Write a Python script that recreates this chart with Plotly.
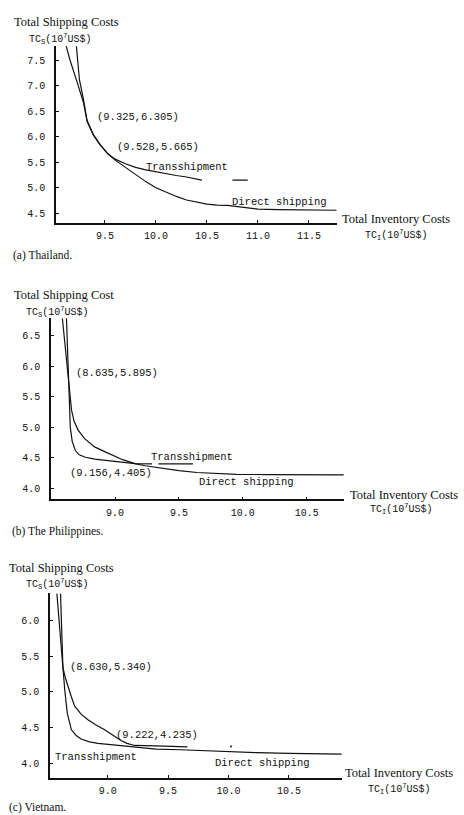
import plotly.graph_objects as go

W, H = 464, 815

# ---------------- data ----------------
# (a) Thailand
a_direct_x = [9.12, 9.157, 9.22, 9.29, 9.325, 9.385, 9.45, 9.528, 9.6, 9.7, 9.8, 9.9, 10.0, 10.1, 10.2,
              10.3, 10.4, 10.5, 10.6, 10.7, 10.8, 10.9, 11.0, 11.2, 11.5, 11.77]
a_direct_y = [7.77, 7.5, 7.11, 6.66, 6.305, 6.04, 5.85, 5.665, 5.54, 5.40, 5.26, 5.12, 5.00, 4.91, 4.83,
              4.76, 4.72, 4.68, 4.66, 4.655, 4.63, 4.60, 4.58, 4.57, 4.565, 4.56]
a_trans_x = [9.22, 9.25, 9.29, 9.325, 9.385, 9.45, 9.528, 9.6, 9.7, 9.8, 9.9, 10.0, 10.1, 10.2, 10.3, 10.45,
             None, 10.75, 10.9]
a_trans_y = [7.77, 7.11, 6.72, 6.305, 6.04, 5.85, 5.665, 5.56, 5.47, 5.40, 5.35, 5.31, 5.28, 5.24, 5.21, 5.15,
             None, 5.15, 5.15]

# (b) The Philippines
b_trans_x = [8.588, 8.612, 8.635, 8.65, 8.66, 8.68, 8.71, 8.76, 8.84, 8.91, 8.975, 9.06, 9.156, 9.22, 9.29,
             None, 9.34, 9.61]
b_trans_y = [6.79, 6.30, 5.895, 5.55, 5.28, 5.10, 4.96, 4.82, 4.68, 4.61, 4.55, 4.47, 4.405, 4.40, 4.40,
             None, 4.40, 4.40]
b_direct_x = [8.62, 8.63, 8.635, 8.64, 8.65, 8.665, 8.69, 8.72, 8.77, 8.84, 8.975, 9.156, 9.235, 9.35, 9.5,
              9.64, 9.8, 9.95, 10.2, 10.79]
b_direct_y = [6.79, 6.20, 5.895, 5.40, 5.00, 4.77, 4.62, 4.55, 4.51, 4.48, 4.45, 4.405, 4.37, 4.33, 4.29,
              4.26, 4.24, 4.23, 4.225, 4.22]

# (c) Vietnam
c_trans_x = [8.58, 8.605, 8.63, 8.65, 8.67, 8.70, 8.727, 8.78, 8.837, 8.9, 8.975, 9.05, 9.11, 9.16, 9.222,
             9.4, 9.66]
c_trans_y = [6.38, 5.80, 5.34, 5.20, 5.08, 4.93, 4.80, 4.69, 4.61, 4.54, 4.47, 4.38, 4.32, 4.28, 4.25,
             4.245, 4.23]
c_direct_x = [8.61, 8.62, 8.63, 8.645, 8.666, 8.70, 8.74, 8.78, 8.85, 8.92, 9.0, 9.08, 9.16, 9.27, 9.4,
              9.6, 9.79, 10.0, 10.23, 10.5, 10.94]
c_direct_y = [6.38, 5.80, 5.34, 5.03, 4.70, 4.47, 4.39, 4.34, 4.30, 4.28, 4.265, 4.255, 4.24, 4.215, 4.20,
              4.19, 4.175, 4.16, 4.15, 4.14, 4.13]
c_dot_x = [10.02]
c_dot_y = [4.235]

a_xticks = [9.5, 10.0, 10.5, 11.0, 11.5]
a_yticks = [4.5, 5.0, 5.5, 6.0, 6.5, 7.0, 7.5]
b_xticks = [9.0, 9.5, 10.0, 10.5]
b_yticks = [4.0, 4.5, 5.0, 5.5, 6.0, 6.5]
c_xticks = [9.0, 9.5, 10.0, 10.5]
c_yticks = [4.0, 4.5, 5.0, 5.5, 6.0]

# ---------------- layout helpers ----------------
def fx(px):
    return px / W

def fy(py):
    return 1 - py / H

MONO = "Liberation Mono"
SERIF = "Liberation Serif"
TICKFONT = dict(family=MONO, size=10, color="#111")

panels = [
    dict(xr=[9.02, 11.775], yr=[4.316, 7.774], xd=(56, 337), yd=(46, 222.7), xt=a_xticks, yt=a_yticks),
    dict(xr=[8.499, 10.792], yr=[3.82, 6.79], xd=(51, 344), yd=(318.3, 499.3), xt=b_xticks, yt=b_yticks),
    dict(xr=[8.523, 10.936], yr=[3.798, 6.384], xd=(50, 341.7), yd=(593.3, 777.7), xt=c_xticks, yt=c_yticks),
]

fig = go.Figure()

line = dict(color="#111", width=1.2)
series = [
    (a_direct_x, a_direct_y, 1), (a_trans_x, a_trans_y, 1),
    (b_trans_x, b_trans_y, 2), (b_direct_x, b_direct_y, 2),
    (c_trans_x, c_trans_y, 3), (c_direct_x, c_direct_y, 3),
]
for xs, ys, k in series:
    fig.add_trace(go.Scatter(x=xs, y=ys, mode="lines", line=line, connectgaps=False,
                             xaxis="x" if k == 1 else f"x{k}", yaxis="y" if k == 1 else f"y{k}",
                             hoverinfo="skip"))
fig.add_trace(go.Scatter(x=c_dot_x, y=c_dot_y, mode="markers", marker=dict(color="#111", size=2),
                         xaxis="x3", yaxis="y3", hoverinfo="skip"))

layout = dict(width=W, height=H, margin=dict(l=0, r=0, t=0, b=0),
              paper_bgcolor="white", plot_bgcolor="white", showlegend=False)
for i, p in enumerate(panels, start=1):
    xn = "xaxis" if i == 1 else f"xaxis{i}"
    yn = "yaxis" if i == 1 else f"yaxis{i}"
    layout[xn] = dict(domain=[fx(p["xd"][0]), fx(p["xd"][1])], range=p["xr"],
                      anchor="y" if i == 1 else f"y{i}",
                      showline=True, linecolor="#111", linewidth=1.5, showgrid=False, zeroline=False,
                      ticks="inside", ticklen=3, tickcolor="#111", tickwidth=1,
                      tickvals=p["xt"], ticktext=[f"{v:.1f}" for v in p["xt"]],
                      tickfont=TICKFONT, ticklabelstandoff=3)
    layout[yn] = dict(domain=[fy(p["yd"][1]), fy(p["yd"][0])], range=p["yr"],
                      anchor="x" if i == 1 else f"x{i}",
                      showline=True, linecolor="#111", linewidth=1.5, showgrid=False, zeroline=False,
                      ticks="inside", ticklen=3, tickcolor="#111", tickwidth=1,
                      tickvals=p["yt"], ticktext=[f"{v:.1f}" for v in p["yt"]],
                      tickfont=TICKFONT, ticklabelstandoff=7)
fig.update_layout(**layout)

TCS = "TC<sub>S</sub>(10<sup>7</sup>US$)"
TCI = "TC<sub>I</sub>(10<sup>7</sup>US$)"

texts = [
    # (text, left px, center y px, family, size)
    ("Total Shipping Costs", 12, 22, SERIF, 12.5),
    (TCS, 27, 39, MONO, 10),
    ("Total Inventory Costs", 340, 219, SERIF, 12.5),
    (TCI, 363, 235, MONO, 10),
    ("(a) Thailand.", 11, 256, SERIF, 11.5),
    ("(9.325,6.305)", 95, 117, MONO, 10.5),
    ("(9.528,5.665)", 115, 146.7, MONO, 10.5),
    ("Transshipment", 144, 167, MONO, 10.5),
    ("Direct shipping", 230, 202, MONO, 10.5),

    ("Total Shipping Cost", 12, 295, SERIF, 12.5),
    (TCS, 24, 311.7, MONO, 10),
    ("Total Inventory Costs", 348, 495, SERIF, 12.5),
    (TCI, 368, 509, MONO, 10),
    ("(b) The Philippines.", 10, 531, SERIF, 11.5),
    ("(8.635,5.895)", 74, 373, MONO, 10.5),
    ("(9.156,4.405)", 68, 472.7, MONO, 10.5),
    ("Transshipment", 149, 457, MONO, 10.5),
    ("Direct shipping", 197, 481.7, MONO, 10.5),

    ("Total Shipping Costs", 7, 568, SERIF, 12.5),
    (TCS, 24, 584, MONO, 10),
    ("Total Inventory Costs", 343, 773, SERIF, 12.5),
    (TCI, 366, 789, MONO, 10),
    ("(c) Vietnam.", 7, 807, SERIF, 11.5),
    ("(8.630,5.340)", 67.7, 666.7, MONO, 10.5),
    ("(9.222,4.235)", 114.3, 735, MONO, 10.5),
    ("Transshipment", 53.3, 756.7, MONO, 10.5),
    ("Direct shipping", 213.3, 762.7, MONO, 10.5),
]
for t, x, y, fam, size in texts:
    fig.add_annotation(text=t, x=fx(x), y=fy(y), xref="paper", yref="paper",
                       xanchor="left", yanchor="middle", showarrow=False,
                       font=dict(family=fam, size=size, color="#111"))

fig.write_html("out.html")
